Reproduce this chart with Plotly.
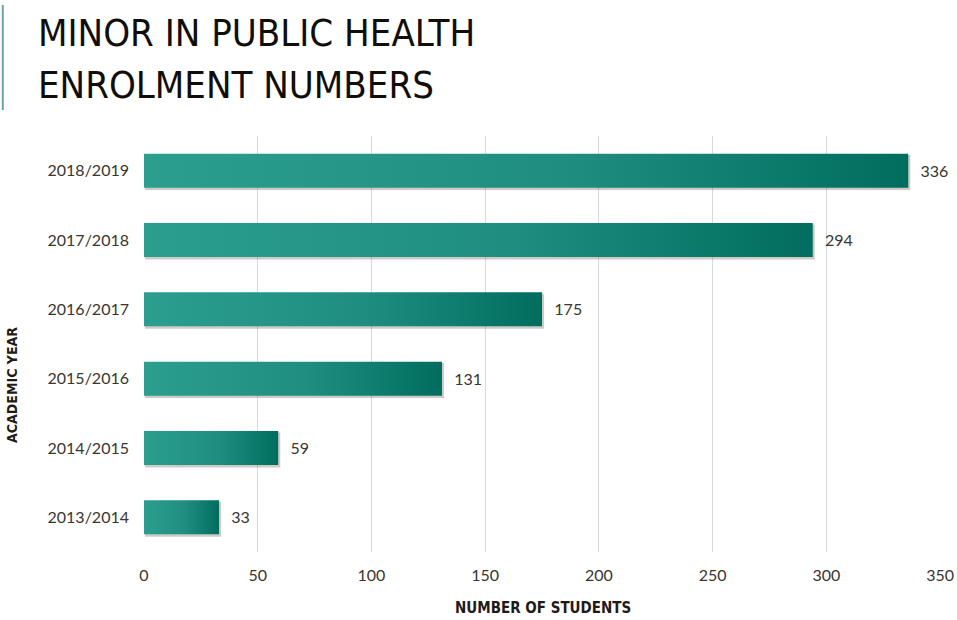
import plotly.graph_objects as go

years = ["2013/2014", "2014/2015", "2015/2016", "2016/2017", "2017/2018", "2018/2019"]
students = [33, 59, 131, 175, 294, 336]
x_ticks = [0, 50, 100, 150, 200, 250, 300, 350]

TEXT = "#3a352f"
TITLE_FONT = "DejaVu Sans Condensed, DejaVu Sans"
BODY_FONT = "Lato"
HALF = 0.245  # half bar thickness, in category units

fig = go.Figure()

# soft drop shadow, then the gradient bar itself
for i, v in enumerate(students):
    fig.add_trace(go.Scatter(
        x=[0.4, v + 0.9, v + 0.9, 0.4, 0.4],
        y=[i - HALF - 0.035, i - HALF - 0.035, i + HALF - 0.02, i + HALF - 0.02, i - HALF - 0.035],
        mode="lines", line=dict(width=0), fill="toself",
        fillcolor="rgba(80,70,55,0.28)", hoverinfo="skip", showlegend=False,
    ))
    fig.add_trace(go.Scatter(
        x=[0, v, v, 0, 0],
        y=[i - HALF, i - HALF, i + HALF, i + HALF, i - HALF],
        mode="lines", line=dict(width=0), fill="toself",
        fillgradient=dict(
            type="horizontal",
            colorscale=[[0, "#2b9e90"], [0.55, "#1f8e80"], [1, "#006d5f"]],
        ),
        hoverinfo="skip", showlegend=False,
    ))

fig.add_trace(go.Scatter(
    x=students,
    y=[i - 0.03 for i in range(len(years))],
    mode="text",
    text=["   " + str(v) for v in students],
    textposition="middle right",
    textfont=dict(family=BODY_FONT, size=16, color=TEXT),
    cliponaxis=False,
    hovertemplate="%{x}<extra></extra>",
    showlegend=False,
))

fig.update_layout(
    width=957,
    height=620,
    paper_bgcolor="white",
    plot_bgcolor="white",
    margin=dict(l=144, r=16, t=136, b=68),
    font=dict(family=BODY_FONT, size=16, color=TEXT),
    xaxis=dict(
        range=[0, 350.4],
        tickvals=x_ticks,
        automargin=False,
        showgrid=True,
        gridcolor="#dcd9d3",
        gridwidth=1,
        zeroline=False,
        showline=False,
        ticks="",
        ticklabelstandoff=12,
        tickfont=dict(family=BODY_FONT, size=16, color=TEXT),
    ),
    yaxis=dict(
        range=[-0.5, 5.5],
        tickvals=list(range(len(years))),
        ticktext=years,
        automargin=False,
        showgrid=False,
        zeroline=False,
        showline=False,
        ticks="",
        ticklabelstandoff=14,
        tickfont=dict(family=BODY_FONT, size=16, color=TEXT),
    ),
    shapes=[dict(
        type="line", xref="paper", yref="paper",
        x0=-0.1772, x1=-0.1772, y0=1.315, y1=1.0625,
        line=dict(color="#6d9fa6", width=2),
    )],
    annotations=[
        dict(text="MINOR IN PUBLIC HEALTH", xref="paper", yref="paper",
             x=-0.1359, y=1.2476, xanchor="left", yanchor="middle", showarrow=False,
             font=dict(family=TITLE_FONT, size=38, color="#110e0a")),
        dict(text="ENROLMENT NUMBERS", xref="paper", yref="paper",
             x=-0.1359, y=1.1226, xanchor="left", yanchor="middle", showarrow=False,
             font=dict(family=TITLE_FONT, size=38, color="#110e0a")),
        dict(text="<b>NUMBER OF STUDENTS</b>", xref="paper", yref="paper",
             x=0.5, y=-0.1346, xanchor="center", yanchor="middle", showarrow=False,
             font=dict(family=TITLE_FONT, size=15, color="#1f1b16")),
        dict(text="<b>ACADEMIC YEAR</b>", xref="paper", yref="paper",
             x=-0.166, y=0.401, xanchor="center", yanchor="middle", showarrow=False,
             textangle=-90,
             font=dict(family=TITLE_FONT, size=14, color="#1f1b16")),
    ],
)

fig.write_html("out.html", config={"displayModeBar": False},
               post_script="document.body.style.margin='0';")
